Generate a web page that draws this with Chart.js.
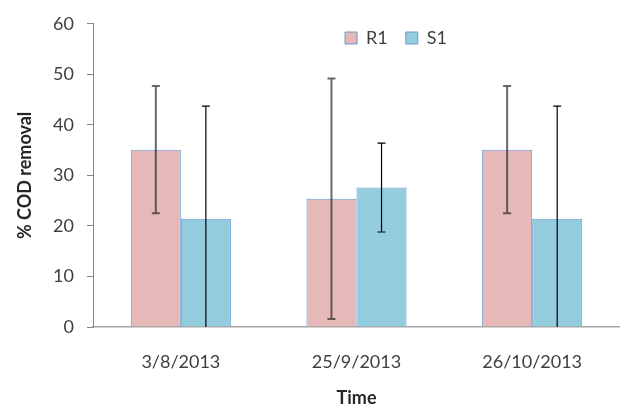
<!DOCTYPE html>
<html>
<head>
<meta charset="utf-8">
<script src="https://cdn.jsdelivr.net/npm/chart.js@4.4.0/dist/chart.umd.min.js"></script>
<style>
  html, body { margin: 0; padding: 0; background: #fff; }
  #wrap { width: 620px; height: 407px; }
</style>
</head>
<body>
<div id="wrap"><canvas id="codChart"></canvas></div>
<script>
// chart data
var dates = ['3/8/2013', '25/9/2013', '26/10/2013'];
var r1 = [35.1, 25.4, 35.1];
var s1 = [21.4, 27.6, 21.4];
var r1Err = [12.6, 23.8, 12.6];
var s1Err = [22.3, 8.8, 22.3];
var yTicks = [0, 10, 20, 30, 40, 50, 60];

var errors = [r1Err, s1Err];
var errStyle = [
    { color: 'rgba(40,40,40,0.7)', width: 2 },
    { color: '#000000', width: 1.2 }
];

// draws the error bars from the y scale
var errorBars = {
    id: 'errorBars',
    afterDatasetsDraw: function (chart) {
        var ctx = chart.ctx;
        var y = chart.scales.y;
        chart.data.datasets.forEach(function (ds, di) {
            var meta = chart.getDatasetMeta(di);
            meta.data.forEach(function (bar, i) {
                var v = ds.data[i], e = errors[di][i];
                var top = y.getPixelForValue(v + e);
                var bot = y.getPixelForValue(Math.max(0, v - e));
                ctx.save();
                ctx.strokeStyle = errStyle[di].color;
                ctx.lineWidth = errStyle[di].width;
                ctx.beginPath();
                ctx.moveTo(bar.x, top);
                ctx.lineTo(bar.x, bot);
                ctx.moveTo(bar.x - 4, top);
                ctx.lineTo(bar.x + 4, top);
                if (v - e > 0) {
                    ctx.moveTo(bar.x - 4, bot);
                    ctx.lineTo(bar.x + 4, bot);
                }
                ctx.stroke();
                ctx.restore();
            });
        });
    }
};

// legend floats over the plot: take no layout height, then move it
var legendFloat = {
    id: 'legendFloat',
    afterInit: function (chart) {
        var lg = chart.legend;
        var fit = lg.fit;
        lg.fit = function () {
            fit.call(this);
            this.height = 0;
        };
    },
    afterLayout: function (chart) {
        var lg = chart.legend;
        lg.left += 86;
        lg.right += 86;
        lg.top = 11;
        lg.bottom = 62;
    }
};

var ctx = document.getElementById('codChart').getContext('2d');
var codChart = new Chart(ctx, {
    type: 'bar',
    data: {
        labels: dates,
        datasets: [{
            label: 'R1',
            data: r1,
            backgroundColor: '#E6B9B8',
            borderColor: '#6C9AD2',
            borderWidth: 1
        }, {
            label: 'S1',
            data: s1,
            backgroundColor: '#93CDDD',
            borderColor: '#6C9AD2',
            borderWidth: 1
        }]
    },
    options: {
        responsive: true,
        maintainAspectRatio: false,
        animation: false,
        layout: { padding: { top: 20, right: 0, bottom: 0, left: 0 } },
        datasets: { bar: { categoryPercentage: 0.57, barPercentage: 1.0 } },
        plugins: {
            legend: {
                position: 'top',
                align: 'center',
                labels: {
                    boxWidth: 12,
                    boxHeight: 12,
                    padding: 18,
                    color: '#404040',
                    font: { family: 'Lato', size: 18 }
                }
            },
            tooltip: { enabled: false }
        },
        scales: {
            x: {
                grid: { display: true, drawOnChartArea: false, drawTicks: false },
                border: { color: '#A6A6A6', width: 1.5 },
                ticks: { color: '#404040', padding: 24, font: { family: 'Lato', size: 18 } },
                title: {
                    display: true,
                    text: 'Time',
                    color: '#262626',
                    padding: { top: 0, bottom: 0 },
                    font: { family: 'Lato', size: 18, weight: 'bold', lineHeight: 1 }
                },
                afterFit: function (scale) { scale.height = 80; }
            },
            y: {
                min: 0,
                max: 60,
                afterBuildTicks: function (scale) {
                    scale.ticks = yTicks.map(function (v) { return { value: v }; });
                },
                grid: { drawOnChartArea: false, drawTicks: true, tickLength: 6, color: '#868686' },
                border: { color: '#868686', width: 1 },
                ticks: { color: '#404040', padding: 13, font: { family: 'Lato', size: 18 } },
                title: {
                    display: true,
                    text: '% COD removal',
                    color: '#262626',
                    padding: { top: 14, bottom: 0 },
                    font: { family: 'Lato', size: 18, weight: 'bold' }
                },
                afterFit: function (scale) { scale.width = 93; }
            }
        }
    },
    plugins: [errorBars, legendFloat]
});
</script>
</body>
</html>
